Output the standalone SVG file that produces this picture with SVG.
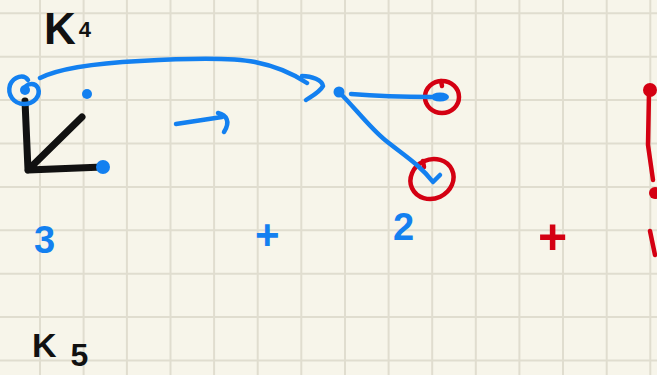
<svg xmlns="http://www.w3.org/2000/svg" width="657" height="375" viewBox="0 0 657 375">
  <style>
    .grid { stroke: #e0ddcf; stroke-width: 2; fill: none; }
    .blue { stroke: #1380f0; fill: none; stroke-width: 4.5; stroke-linecap: round; stroke-linejoin: round; }
    .blue-fill { fill: #1380f0; }
    .black { stroke: #111111; fill: none; stroke-width: 7; stroke-linecap: round; stroke-linejoin: round; }
    .red { stroke: #d40012; fill: none; stroke-width: 4.5; stroke-linecap: round; stroke-linejoin: round; }
    .red-fill { fill: #d40012; }
    .hand { font-family: "Liberation Sans", "DejaVu Sans", sans-serif; font-weight: bold; }
    .ink-black { fill: #111111; }
    .ink-blue { fill: #1380f0; }
    .ink-red { fill: #d40012; }
  </style>

  <!-- paper -->
  <rect width="657" height="375" fill="#f7f5ea"/>
  <path class="grid" d="M40 0V375 M83.6 0V375 M126.9 0V375 M170.5 0V375 M214.1 0V375 M257.7 0V375 M301.3 0V375 M345 0V375 M388.6 0V375 M432.2 0V375 M475.8 0V375 M519.4 0V375 M563 0V375 M606.7 0V375 M650.3 0V375
    M0 13.3H657 M0 56.7H657 M0 100.1H657 M0 143.5H657 M0 186.9H657 M0 230.3H657 M0 273.7H657 M0 317.1H657 M0 360.5H657"/>

  <!-- labels -->
  <g id="label-k4">
    <text class="hand ink-black" x="44" y="44" font-size="44">K<tspan font-size="22" dx="3" dy="-7">4</tspan></text>
  </g>
  <g id="label-k5">
    <text class="hand ink-black" x="32" y="357" font-size="34">K<tspan font-size="32" dy="9" dx="14">5</tspan></text>
  </g>

  <!-- corner: axes with three points -->
  <g id="corner">
    <path class="black" d="M25 101 L28 170 M28 170 L82 117 M28 170 L103 167"/>
    <path class="blue" d="M28 80 C24 74 14 76 10 85 C7 95 14 104 24 104 C34 104 41 96 38 88 C35 82 28 84 26 86"/>
    <circle class="blue-fill" cx="25" cy="90" r="5"/>
    <circle class="blue-fill" cx="87" cy="94" r="5"/>
    <circle class="blue-fill" cx="103" cy="167" r="7"/>
  </g>

  <!-- small arrow between the two pictures -->
  <g id="step-arrow">
    <path class="blue" d="M176 124 L222 117 M218 113 C226 115 231 121 224 132"/>
  </g>

  <!-- branch point with two ends -->
  <g id="branch">
    <circle class="blue-fill" cx="339" cy="92" r="5.5"/>
  </g>
  <g id="end-right">
    <ellipse class="blue-fill" cx="440" cy="97" rx="9" ry="4.5"/>
    <ellipse class="red" cx="442" cy="97" rx="17" ry="16"/>
    <path class="red" d="M441 81 L442 86"/>
  </g>
  <g id="end-lower">
    <ellipse class="red" cx="432" cy="179" rx="22" ry="19.5" transform="rotate(-25 432 179)"/>
    <path class="red" d="M423 161 L424 167"/>
  </g>

  <!-- connectors -->
  <g id="connectors">
    <path class="blue" d="M40 78 C60 68 100 63 140 61 C190 58 230 57 255 62 C275 66 292 73 307 83"/>
    <path class="blue" d="M302 76 C312 76 322 80 323 86 C320 92 312 96 306 100"/>
    <path class="blue" d="M351 94 C375 96 405 97 432 97"/>
    <path class="blue" d="M339 92 C355 108 370 128 385 140 C405 156 420 165 433 182 M433 182 L440 175"/>
  </g>

  <!-- counts -->
  <g id="count-3">
    <text class="hand ink-blue" x="34" y="253" font-size="38">3</text>
  </g>
  <g id="plus-blue">
    <text class="hand ink-blue" x="255" y="249" font-size="42">+</text>
  </g>
  <g id="count-2">
    <text class="hand ink-blue" x="393" y="240" font-size="38">2</text>
  </g>
  <g id="plus-red">
    <text class="hand ink-red" x="538" y="254" font-size="50">+</text>
  </g>

  <!-- red mark at the right edge -->
  <g id="red-mark">
    <circle class="red-fill" cx="650" cy="90" r="7"/>
    <path class="red" d="M649 92 L648 145 L653 180" stroke-width="6"/>
    <circle class="red-fill" cx="655" cy="193" r="6"/>
    <path class="red" d="M650 231 L655 255" stroke-width="6"/>
  </g>
</svg>
